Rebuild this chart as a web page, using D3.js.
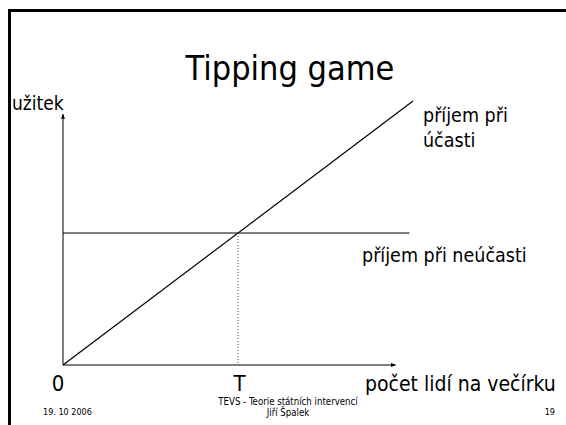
<!DOCTYPE html>
<html>
<head>
  <meta charset="utf-8">
  <title>Tipping game</title>
  <script src="https://d3js.org/d3.v7.min.js"></script>
  <style>
    body { margin: 0; background: #fff; }
    text { font-family: "DejaVu Sans Condensed", "DejaVu Sans", sans-serif; fill: #000; }
  </style>
</head>
<body>
  <svg width="566" height="425"></svg>

  <script>
    // Curves (abstract units, 0..10 on both axes)
    const participation = [{ x: 0, y: 0 }, { x: 10, y: 10 }];   // příjem při účasti
    const nonParticipation = [{ x: 0, y: 5 }, { x: 9.9, y: 5 }]; // příjem při neúčasti
    const tipping = { x: 5, y: 5 };                              // T
    const axisEnd = { x: 9.5, y: 9.5 };

    // Texts
    const title = "Tipping game";
    const yLabel = "užitek";
    const xLabel = "počet lidí na večírku";
    const xTicks = [{ v: 0, label: "0" }, { v: 5, label: "T" }];
    const lineLabels = [["příjem při", "účasti"], ["příjem při neúčasti"]];
    const footer = ["19. 10 2006", "TEVS - Teorie státních intervencí", "Jiří Špalek", "19"];

    const svg = d3.select("svg");

    // slide frame (top and left edges visible)
    svg.append("path")
      .attr("d", "M9.5,430 V10.5 H570")
      .attr("fill", "none")
      .attr("stroke", "#000")
      .attr("stroke-width", 3);

    const x = d3.scaleLinear().domain([0, 10]).range([63, 413]);
    const y = d3.scaleLinear().domain([0, 10]).range([365, 101]);

    svg.append("defs").append("marker")
      .attr("id", "arrow")
      .attr("viewBox", "0 0 10 10")
      .attr("refX", 9).attr("refY", 5)
      .attr("markerWidth", 5).attr("markerHeight", 5)
      .attr("markerUnits", "userSpaceOnUse")
      .attr("orient", "auto")
      .append("path")
      .attr("d", "M0,1 L10,5 L0,9 Z")
      .attr("fill", "#000");

    // axes
    svg.append("line")
      .attr("x1", x(0)).attr("y1", y(0))
      .attr("x2", x(axisEnd.x)).attr("y2", y(0))
      .attr("stroke", "#000").attr("stroke-width", 1)
      .attr("marker-end", "url(#arrow)");
    svg.append("line")
      .attr("x1", x(0)).attr("y1", y(0))
      .attr("x2", x(0)).attr("y2", y(axisEnd.y))
      .attr("stroke", "#000").attr("stroke-width", 1)
      .attr("marker-end", "url(#arrow)");

    const line = d3.line().x(d => x(d.x)).y(d => y(d.y));

    svg.append("path").datum(nonParticipation)
      .attr("fill", "none").attr("stroke", "#000").attr("stroke-width", 1.2)
      .attr("d", line);
    svg.append("path").datum(participation)
      .attr("fill", "none").attr("stroke", "#000").attr("stroke-width", 1.2)
      .attr("d", line);

    // dotted drop line at T
    svg.append("line")
      .attr("x1", x(tipping.x)).attr("y1", y(tipping.y))
      .attr("x2", x(tipping.x)).attr("y2", y(0))
      .attr("stroke", "#555").attr("stroke-width", 1)
      .attr("stroke-dasharray", "1,2");

    // title
    svg.append("text")
      .attr("x", 290).attr("y", 80)
      .attr("text-anchor", "middle")
      .attr("font-size", 34)
      .text(title);

    svg.append("text")
      .attr("x", 12).attr("y", 110)
      .attr("font-size", 19)
      .text(yLabel);

    // tick labels
    svg.selectAll(".tick-label").data(xTicks).join("text")
      .attr("class", "tick-label")
      .attr("x", d => x(d.v) - 5 * (d.v === 0 ? 1 : -0.3))
      .attr("y", 391)
      .attr("text-anchor", "middle")
      .attr("font-size", 22)
      .text(d => d.label);

    svg.append("text")
      .attr("x", 365).attr("y", 391)
      .attr("font-size", 21)
      .text(xLabel);

    // curve labels
    const lab1 = svg.append("text").attr("font-size", 19.5);
    lineLabels[0].forEach((t, i) => {
      lab1.append("tspan").attr("x", 423).attr("y", 122 + i * 25).text(t);
    });
    svg.append("text")
      .attr("x", 362).attr("y", 262)
      .attr("font-size", 19.5)
      .text(lineLabels[1][0]);

    // footer
    svg.append("text").attr("x", 43).attr("y", 415).attr("font-size", 9).text(footer[0]);
    svg.append("text").attr("x", 288).attr("y", 405).attr("font-size", 9.6)
      .attr("text-anchor", "middle").text(footer[1]);
    svg.append("text").attr("x", 288).attr("y", 416).attr("font-size", 9.6)
      .attr("text-anchor", "middle").text(footer[2]);
    svg.append("text").attr("x", 555).attr("y", 415).attr("font-size", 9)
      .attr("text-anchor", "end").text(footer[3]);
  </script>
</body>
</html>
